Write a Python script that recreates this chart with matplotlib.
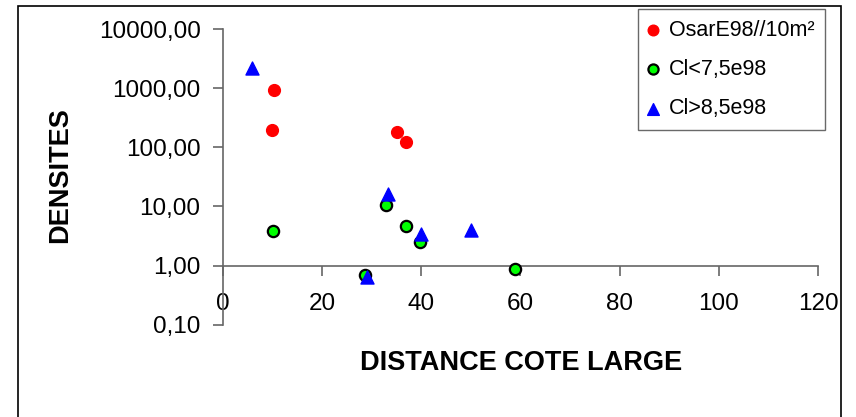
import matplotlib
matplotlib.use('Agg')
import matplotlib.pyplot as plt
from matplotlib.patches import Rectangle
from matplotlib.ticker import FixedLocator, FuncFormatter

plt.rcParams['font.family'] = ['Liberation Sans', 'DejaVu Sans']

# data
osar_x = [10.4, 10.0, 35.1, 37.0]
osar_y = [960, 200, 186, 124]
cl_low_x = [10.1, 33.0, 36.9, 39.7, 28.6, 58.9]
cl_low_y = [3.9, 10.4, 4.7, 2.5, 0.7, 0.87]
cl_high_x = [5.9, 33.3, 40.0, 50.0, 29.0]
cl_high_y = [2240, 16.3, 3.4, 4.0, 0.65]

series_labels = ['OsarE98//10m²', 'Cl<7,5e98', 'Cl>8,5e98']
y_ticks = [0.1, 1, 10, 100, 1000, 10000]
x_ticks = [0, 20, 40, 60, 80, 100, 120]

fig = plt.figure(figsize=(8.56, 4.17), dpi=100)
ax = fig.add_axes([0.2602, 0.2218, 0.9556 - 0.2602, 0.9293 - 0.2218])

ax.scatter(osar_x, osar_y, s=72, color='#ff0000', label=series_labels[0], zorder=3)
ax.scatter(cl_low_x, cl_low_y, s=66, color='#00ff00', edgecolors='black',
           linewidths=1.6, label=series_labels[1], zorder=3)
ax.scatter(cl_high_x, cl_high_y, s=88, marker='^', color='#0000ff',
           label=series_labels[2], zorder=4)

ax.set_yscale('log')
ax.set_ylim(0.1, 10000)
ax.set_xlim(0, 120)
ax.yaxis.set_major_locator(FixedLocator(y_ticks))
ax.yaxis.set_minor_locator(FixedLocator([]))
ax.yaxis.set_major_formatter(FuncFormatter(lambda v, p: ('%.2f' % v).replace('.', ',')))
ax.set_xticks(x_ticks)

ax.spines['top'].set_visible(False)
ax.spines['right'].set_visible(False)
ax.spines['bottom'].set_position(('data', 1))
for s in ['left', 'bottom']:
    ax.spines[s].set_color('#666666')
    ax.spines[s].set_linewidth(1.2)

ax.tick_params(axis='y', direction='out', length=7, width=1.2, color='#666666',
               pad=9, labelsize=17.5)
ax.tick_params(axis='x', direction='out', length=7, width=1.2, color='#666666',
               pad=13, labelsize=17.5)

fig.text(0.07, 0.58, 'DENSITES', rotation=90, ha='center', va='center',
         fontsize=19.5, fontweight='bold')
fig.text(0.609, 0.13, 'DISTANCE COTE LARGE', ha='center', va='center',
         fontsize=19.5, fontweight='bold')

leg = fig.legend(loc='upper left', bbox_to_anchor=(638 / 856, 1 - 9 / 417),
                 bbox_transform=fig.transFigure, borderaxespad=0,
                 fontsize=15.5, frameon=True, fancybox=False,
                 edgecolor='#444444', handletextpad=0.57, handlelength=0.37,
                 labelspacing=0.85, borderpad=0.5, markerscale=0.9)
leg.get_frame().set_linewidth(1.0)

fig.patches.append(Rectangle((18 / 856, -0.05), (841 - 18) / 856, 1.05 - 6 / 417,
                             transform=fig.transFigure, fill=False,
                             edgecolor='black', linewidth=1.2))

fig.savefig('out.png', dpi=100)
